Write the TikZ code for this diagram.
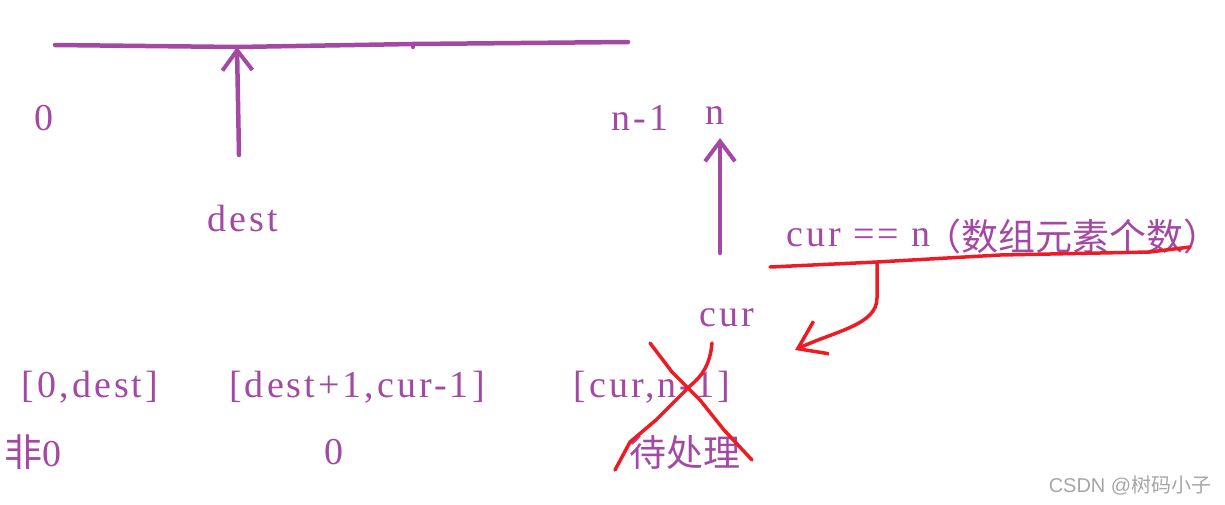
\documentclass[tikz,border=0pt]{standalone}
\usepackage{fontspec}
\setmainfont{Liberation Serif}[LetterSpace=8]
\newfontfamily\cjkfont{Noto Sans CJK SC}
\newfontfamily\markfont{Liberation Sans}
\usetikzlibrary{arrows.meta}
\definecolor{penpurple}{HTML}{A349A4}
\definecolor{penred}{HTML}{ED1C24}
\begin{document}
\begin{tikzpicture}
[x=1pt,y=-1pt,
  textdecorate/.style={text=penpurple,font=\fontsize{38}{38}\selectfont,inner sep=0pt},
  cjkdecorate/.style={text=penpurple,font=\fontsize{37}{37}\selectfont\cjkfont,inner sep=0pt},
  pendecorate/.style={draw=penpurple,line width=4.5pt,line cap=round,line join=round},
  reddecorate/.style={draw=penred,line width=3.5pt,line cap=round,line join=round},
  arrowdecorate/.style={-{Straight Barb[length=20pt,width=30pt,line width=4pt]}},
  redarrowdecorate/.style={-{Straight Barb[length=26pt,width=36pt,line width=3.5pt]}}]
\useasboundingbox (0,0) rectangle (1225,504);
%% labels
\foreach \nodename/\x/\y/\txt in {zero/44/118/0, dest/243/218/dest,
  nmone/640/118/n-1, n/715/116/n, cur/727/318/cur,
  rngone/90/387/{[0,dest]}, rngtwo/357/387/{[dest+1,cur-1]},
  rngthree/652/387/{[cur,n-1]}, zeroseg/334/452/0}
{
  \node (\nodename) at (\x,\y) [textdecorate] {\txt};
}
\node (nonzero) at (33,452) [textdecorate] {{\cjkfont 非}0};
\node (pending) at (685,452) [cjkdecorate] {待处理};
\node (cond) at (786,238) [textdecorate,anchor=west] {cur == n};
\node (condnote) at (924,236) [cjkdecorate,anchor=west] {（数组元素个数）};
\node (mark) at (1130,485) [text=black!35,inner sep=0pt,font=\fontsize{20}{20}\selectfont\markfont]
  {CSDN @{\cjkfont 树码小子}};
%% the array bar and the two pointers
\coordinate (barleft) at (55,45);
\coordinate (desthead) at (237,47);
\coordinate (barmid) at (413,44);
\coordinate (barright) at (628,42);
\draw[pendecorate] (barleft) -- (desthead) -- (barmid) -- (barright);
\draw[pendecorate] (barmid) -- ++(0,3);
\coordinate (desttail) at (239,155);
\draw[pendecorate,arrowdecorate] (desttail) -- (desthead);
\coordinate (ntail) at (720,253);
\coordinate (nhead) at (720,138);
\draw[pendecorate,arrowdecorate] (ntail) -- (nhead);
%% red strokes
\coordinate (lineleft) at (770,267);
\coordinate (linefork) at (877,262);
\coordinate (lineright) at (1190,247);
\draw[reddecorate] (lineleft) -- (linefork) -- (1000,255) -- (1100,253)
  -- (1150,252) -- (lineright);
\coordinate (curvehead) at (795,350);
\draw[reddecorate,redarrowdecorate] (linefork) -- (877,298)
  .. controls (877,325) and (835,331) .. (curvehead);
\draw[reddecorate] (650,343) -- (672,372) -- (700,400) -- (724,430) -- (752,460);
\draw[reddecorate] (712,343) .. controls (710,365) and (702,376) .. (690,386)
  -- (656,420) -- (630,442) -- (615,470);
\end{tikzpicture}
\end{document}
